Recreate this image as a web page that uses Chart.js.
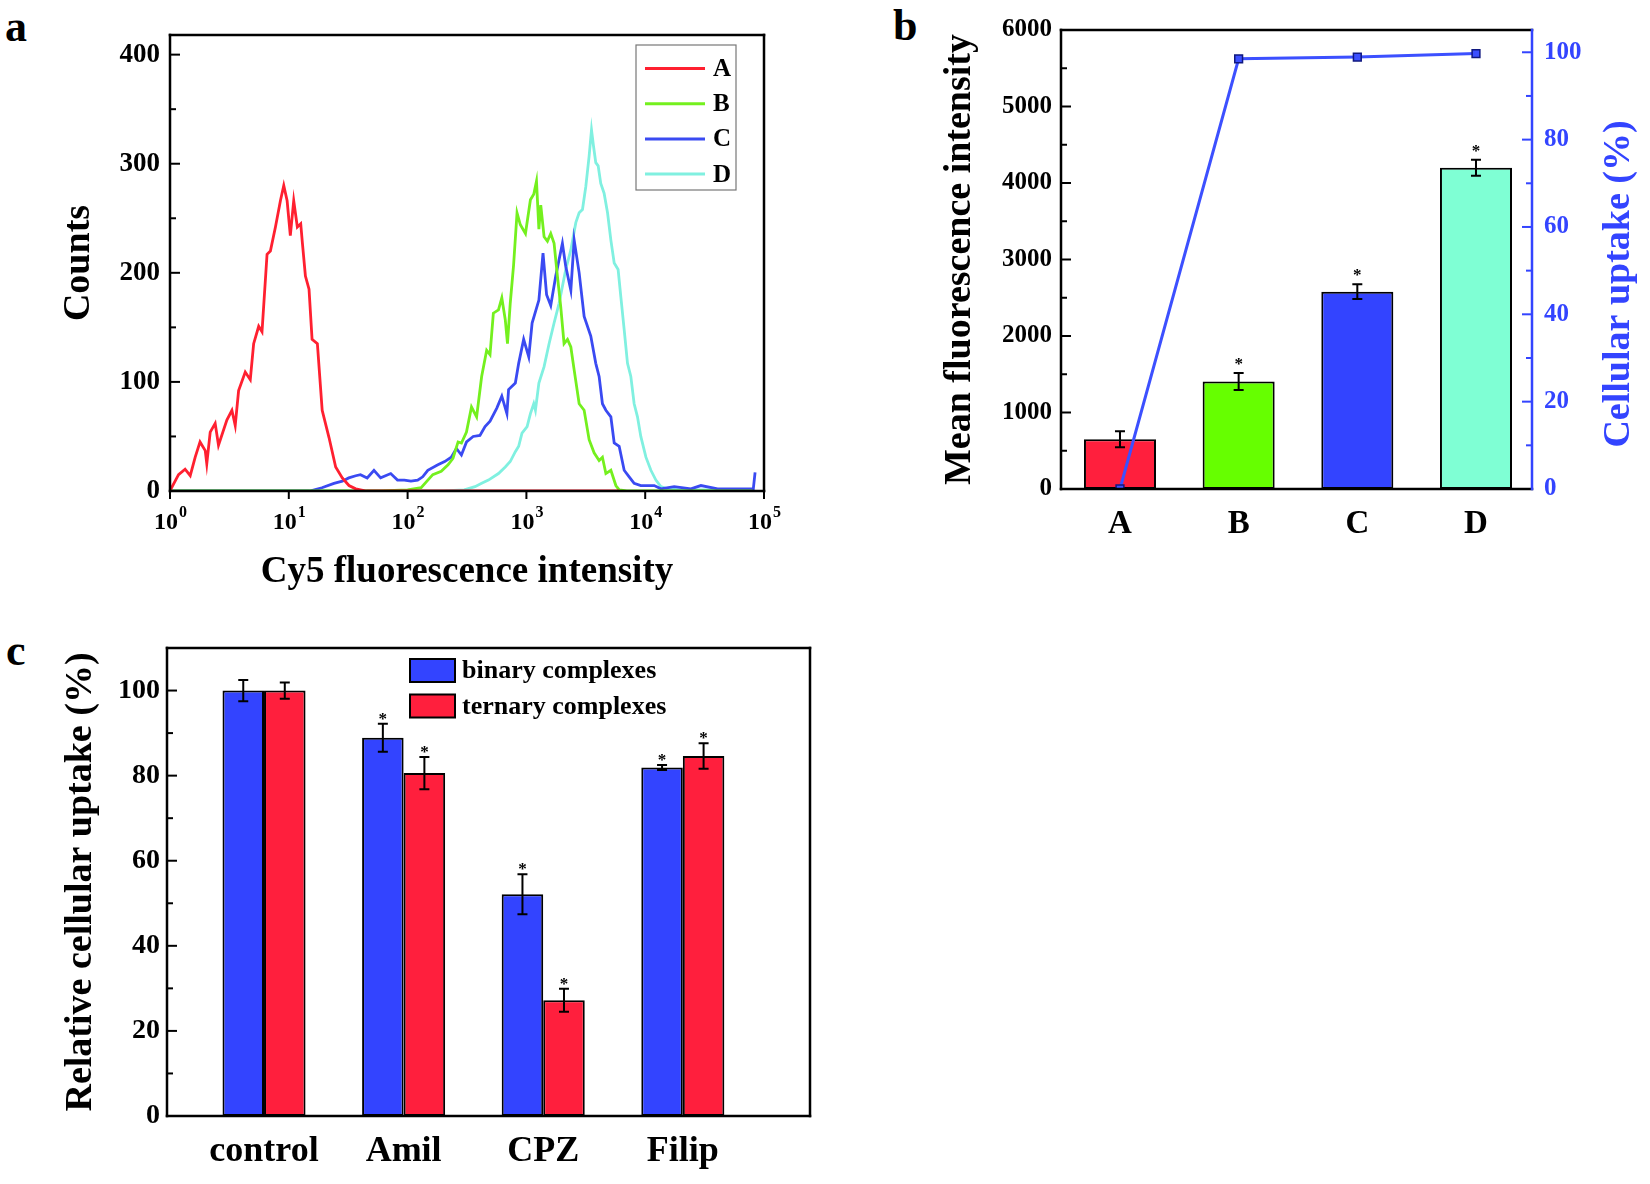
<!DOCTYPE html>
<html>
<head>
<meta charset="utf-8">
<script src="https://cdn.jsdelivr.net/npm/chart.js@4.4.0/dist/chart.umd.min.js"></script>
<style>
  html, body { margin: 0; padding: 0; background: #fff; }
  body { width: 1650px; height: 1184px; position: relative; overflow: hidden; }
  .painel { position: absolute; }
  .letra { position: absolute; font: bold 44px "Liberation Serif", "Times New Roman", serif; line-height: 1; }
</style>
</head>
<body>
<div class="letra" style="left:5px;top:5px">a</div>
<div class="letra" style="left:893px;top:4px">b</div>
<div class="letra" style="left:6px;top:629px">c</div>
<div class="painel" style="left:0;top:0;width:800px;height:600px"><canvas id="graficoHistograma"></canvas></div>
<div class="painel" style="left:840px;top:0;width:810px;height:560px"><canvas id="graficoMedia"></canvas></div>
<div class="painel" style="left:0;top:600px;width:840px;height:584px"><canvas id="graficoRelativo"></canvas></div>
<script>
// ---------- (a) histogramas: [intensidade, contagem] ----------
const curvaA = [[1,0],[1.02,2],[1.18,15],[1.34,20],[1.48,14],[1.63,31],[1.79,45],[1.98,37],[2.04,25],[2.18,54],
  [2.40,62],[2.56,42],[3.01,65],[3.32,74],[3.54,60],[3.78,92],[4.30,109],[4.74,102],[5.06,135],[5.58,151],
  [5.95,146],[6.56,217],[7.00,220],[7.72,242],[8.50,266],[9.07,280],[9.68,266],[10.3,234],[11.0,266],[11.8,242],
  [12.6,245],[13.0,228],[13.8,197],[14.8,185],[15.7,139],[17.4,135],[19.1,74],[21.8,49],[24.8,22],[28.2,12],
  [32.1,5],[36.6,2],[45,0],[6000,0]];
const curvaB = [[1,0],[60,0],[100,1],[130,3],[148,10],[163,15],[192,18],[219,24],[241,30],[266,45],[284,44],
  [313,54],[345,77],[381,68],[420,105],[463,129],[494,125],[527,163],[582,166],[621,177],[664,157],[693,135],
  [731,172],[780,207],[834,255],[889,244],[982,236],[1081,267],[1153,272],[1216,284],[1274,240],[1321,262],
  [1409,233],[1503,229],[1603,236],[1710,227],[1824,197],[1945,169],[2075,135],[2218,139],[2366,132],[2523,111],
  [2780,80],[3062,74],[3373,47],[3715,35],[4093,28],[4365,31],[4667,16],[5140,19],[5662,5],[6039,1],[7000,0],[80000,0]];
const curvaC = [[1,0],[15,0],[19,3],[24,7],[28.2,9],[32,12],[36.6,14],[40.1,15],[45.7,12],[52.1,19],[59.3,12],
  [72.1,16],[82.2,10],[93.8,10],[106.7,9],[121.6,10],[134,13],[147.9,19],[179.9,24],[205.1,27],[233.3,31],
  [257.6,39],[283.8,33],[313.3,45],[356.4,50],[406.4,51],[448.7,59],[494.3,64],[563.6,76],[620.9,87],[685.5,71],
  [707.9,93],[807.2,99],[861,117],[948.4,139],[1047,123],[1117,154],[1274,175],[1380,218],[1479,180],[1603,170],
  [1766,197],[2009,227],[2143,206],[2366,184],[2523,230],[2780,200],[3062,160],[3483,142],[3837,117],[4093,105],
  [4365,80],[4667,74],[5140,68],[5483,44],[6039,41],[6653,19],[7328,13],[8072,7],[9183,5],[11912,5],[13552,2],
  [17539,4],[24266,2],[29444,5],[40738,2],[63973,2],[81283,2],[84140,17]];
const curvaD = [[1,0],[200,0],[300,1],[369,4],[420,7],[479,10],[582,16],[664,22],[731,27],[807,36],[861,41],
  [918,53],[1014,59],[1081,71],[1153,80],[1191,74],[1274,99],[1409,114],[1552,135],[1710,154],[1884,172],
  [2143,203],[2366,221],[2606,246],[2780,255],[2965,258],[3162,279],[3373,307],[3532,331],[3673,316],[3837,301],
  [4018,298],[4227,282],[4508,273],[4819,255],[5140,230],[5483,209],[5916,203],[6237,178],[6653,148],[7096,117],
  [7568,105],[8072,80],[8610,68],[9183,50],[10139,31],[11169,19],[12303,10],[13552,4],[15417,2],[20000,1],
  [40000,1],[80000,0]];
const valoresX = [1, 10, 100, 1000, 10000, 100000];
const expoentesX = ['0', '1', '2', '3', '4', '5'];
const ticksContagem = [0, 100, 200, 300, 400];

// ---------- (b) intensidade média e captação ----------
const grupos = ['A', 'B', 'C', 'D'];
const intensidadeMedia = [650, 1405, 2580, 4200];
const erroIntensidade = [105, 110, 95, 105];
const captacao = [0, 98.5, 98.9, 99.7];
const estrelasB = [false, true, true, true];
const ticksIntensidade = [0, 1000, 2000, 3000, 4000, 5000, 6000];
const ticksCaptacao = [0, 20, 40, 60, 80, 100];

// ---------- (c) captação relativa ----------
const tratamentos = ['control', 'Amil', 'CPZ', 'Filip'];
const binarios = [100, 88.9, 52.1, 81.9];
const erroBinarios = [2.5, 3.3, 4.7, 0.6];
const ternarios = [100, 80.6, 27.2, 84.6];
const erroTernarios = [1.9, 3.8, 2.7, 3.0];
const estrelasC = [false, true, true, true];
const ticksRelativo = [0, 20, 40, 60, 80, 100];

const SERIF = '"Liberation Serif", "Times New Roman", serif';
Chart.defaults.font.family = SERIF;
Chart.defaults.font.weight = 'bold';
Chart.defaults.color = '#000';
Chart.defaults.animation = false;

const AZUL = '#3344FF';
const VERMELHO = '#FF1F3D';

// Caixa em volta do gráfico + marcas (para dentro / para fora)
const moldura = {
  id: 'moldura',
  afterDraw(chart, args, op) {
    const { ctx, chartArea: a } = chart;
    const linha = (x1, y1, x2, y2, cor) => {
      ctx.strokeStyle = cor;
      ctx.beginPath(); ctx.moveTo(x1, y1); ctx.lineTo(x2, y2); ctx.stroke();
    };
    ctx.save();
    ctx.lineWidth = 2;
    (op.marcas || []).forEach(m => {
      const s = chart.scales[m.eixo];
      const cor = m.cor || '#000';
      let vals = m.valores;
      if (!vals) {
        vals = [];
        for (let k = 0; s.min + k * m.passo <= s.max + 1e-9; k++) vals.push(s.min + k * m.passo);
      }
      vals.forEach(v => {
        const p = s.getPixelForValue(v);
        const maior = m.maior ? Math.abs(v / m.maior - Math.round(v / m.maior)) < 1e-6 : true;
        const L = maior ? 10 : 6;
        if (m.lado === 'esq') linha(a.left, p, a.left + L, p, cor);
        else if (m.lado === 'dir') linha(a.right, p, a.right - L, p, cor);
        else linha(p, a.bottom, p, a.bottom + 8, cor);
      });
    });
    ctx.lineWidth = 2.5;
    ctx.lineCap = 'square';
    linha(a.left, a.top, a.right, a.top, '#000');
    linha(a.left, a.top, a.left, a.bottom, '#000');
    linha(a.left, a.bottom, a.right, a.bottom, '#000');
    linha(a.right, a.top, a.right, a.bottom, op.corDireita || '#000');
    ctx.restore();
  }
};

// Barras de erro e asteriscos
const barrasErro = {
  id: 'barrasErro',
  afterDatasetsDraw(chart, args, op) {
    const ctx = chart.ctx;
    ctx.save();
    ctx.strokeStyle = '#000';
    ctx.fillStyle = '#000';
    ctx.lineWidth = 2;
    chart.data.datasets.forEach((ds, i) => {
      if (!ds.erros) return;
      const meta = chart.getDatasetMeta(i);
      const ey = chart.scales[meta.yAxisID];
      meta.data.forEach((barra, j) => {
        const v = ds.data[j].y, e = ds.erros[j];
        const x = barra.x;
        const yTop = ey.getPixelForValue(v + e);
        const yBot = ey.getPixelForValue(v - e);
        ctx.beginPath();
        ctx.moveTo(x, yTop); ctx.lineTo(x, yBot);
        ctx.moveTo(x - 5, yTop); ctx.lineTo(x + 5, yTop);
        ctx.moveTo(x - 5, yBot); ctx.lineTo(x + 5, yBot);
        ctx.stroke();
        if (ds.estrelas && ds.estrelas[j]) {
          ctx.font = 'bold 17px ' + SERIF;
          ctx.textAlign = 'center';
          ctx.textBaseline = 'alphabetic';
          ctx.fillText('*', x, yTop - op.distEstrela + 9);
        }
      });
    });
    ctx.restore();
  }
};

// Legenda desenhada numa posição fixa
const legendaFixa = {
  id: 'legendaFixa',
  afterDraw(chart, args, op) {
    const ctx = chart.ctx;
    ctx.save();
    if (op.caixa) {
      ctx.strokeStyle = '#777';
      ctx.lineWidth = 1.2;
      ctx.strokeRect(...op.caixa);
    }
    ctx.font = 'bold ' + op.tamanho + 'px ' + SERIF;
    ctx.textBaseline = 'middle';
    ctx.textAlign = 'left';
    chart.data.datasets.forEach((ds, i) => {
      const y = op.y0 + i * op.passo;
      if (op.tipo === 'linha') {
        ctx.strokeStyle = ds.borderColor;
        ctx.lineWidth = 3;
        ctx.beginPath(); ctx.moveTo(op.x0, y); ctx.lineTo(op.x1, y); ctx.stroke();
      } else {
        ctx.fillStyle = ds.backgroundColor;
        ctx.fillRect(op.x0, y - 11.5, op.x1 - op.x0, 23);
        ctx.strokeStyle = '#000';
        ctx.lineWidth = 2;
        ctx.strokeRect(op.x0, y - 11.5, op.x1 - op.x0, 23);
      }
      ctx.fillStyle = '#000';
      ctx.fillText(ds.label, op.xTexto, y + 1);
    });
    ctx.restore();
  }
};

// Rótulos 10^n do eixo logarítmico
const rotulosLog = {
  id: 'rotulosLog',
  afterDraw(chart) {
    const { ctx, chartArea: a } = chart;
    const s = chart.scales.x;
    ctx.save();
    ctx.fillStyle = '#000';
    ctx.textBaseline = 'alphabetic';
    ctx.textAlign = 'left';
    valoresX.forEach((v, i) => {
      const p = s.getPixelForValue(v);
      ctx.font = 'bold 24px ' + SERIF;
      const w1 = ctx.measureText('10').width;
      ctx.font = 'bold 16px ' + SERIF;
      const w2 = ctx.measureText(expoentesX[i]).width;
      const x0 = p - (w1 + w2) / 2;
      ctx.font = 'bold 24px ' + SERIF;
      ctx.fillText('10', x0, a.bottom + 38);
      ctx.font = 'bold 16px ' + SERIF;
      ctx.fillText(expoentesX[i], x0 + w1 + 1, a.bottom + 26);
    });
    ctx.restore();
  }
};

// Título do eixo da direita (lido de baixo para cima)
const tituloDireito = {
  id: 'tituloDireito',
  afterDraw(chart, args, op) {
    const ctx = chart.ctx;
    ctx.save();
    ctx.translate(op.x, op.y);
    ctx.rotate(-Math.PI / 2);
    ctx.font = 'bold 38px ' + SERIF;
    ctx.fillStyle = op.cor;
    ctx.textAlign = 'center';
    ctx.textBaseline = 'middle';
    ctx.fillText(op.texto, 0, 0);
    ctx.restore();
  }
};

const semGrade = { display: false, drawTicks: false };
const numeroSimples = v => String(v);

// ---------- gráfico (a) ----------
new Chart(document.getElementById('graficoHistograma'), {
  type: 'line',
  data: {
    datasets: [
      { label: 'A', data: curvaA, borderColor: '#FF2030' },
      { label: 'B', data: curvaB, borderColor: '#74F01E' },
      { label: 'C', data: curvaC, borderColor: '#3A4AF2' },
      { label: 'D', data: curvaD, borderColor: '#80F0E0' }
    ].map(d => ({ ...d, borderWidth: 2.8, pointRadius: 0, tension: 0, fill: false }))
  },
  options: {
    responsive: true,
    maintainAspectRatio: false,
    layout: { padding: { top: 35, right: 36, left: 0, bottom: 0 } },
    plugins: {
      legend: { display: false },
      tooltip: { enabled: false },
      moldura: {
        marcas: [
          { eixo: 'y', lado: 'esq', passo: 50, maior: 100 },
          { eixo: 'x', lado: 'baixo', valores: valoresX }
        ]
      },
      legendaFixa: { tipo: 'linha', caixa: [636, 45, 100, 145], x0: 645, x1: 705, xTexto: 713, y0: 68.5, passo: 35.2, tamanho: 25 }
    },
    scales: {
      x: {
        type: 'logarithmic', min: 1, max: 100000,
        afterBuildTicks: s => { s.ticks = valoresX.map(v => ({ value: v })); },
        afterFit: s => { s.height = 109; },
        grid: semGrade, border: { display: false },
        ticks: { display: false },
        title: { display: true, text: 'Cy5 fluorescence intensity', font: { size: 37, lineHeight: 1 }, padding: { top: 0, bottom: 9 } }
      },
      y: {
        min: 0, max: 418,
        afterBuildTicks: s => { s.ticks = ticksContagem.map(v => ({ value: v })); },
        afterFit: s => { s.width = 170; },
        grid: semGrade, border: { display: false },
        ticks: { padding: 10, font: { size: 27 }, callback: numeroSimples },
        title: { display: true, text: 'Counts', font: { size: 38, lineHeight: 1 }, padding: { top: 60, bottom: 0 } }
      }
    }
  },
  plugins: [moldura, legendaFixa, rotulosLog]
});

// ---------- gráfico (b) ----------
new Chart(document.getElementById('graficoMedia'), {
  type: 'bar',
  data: {
    datasets: [
      {
        type: 'line',
        label: 'Cellular uptake',
        data: captacao.map((v, i) => ({ x: i + 1, y: v })),
        yAxisID: 'y1',
        borderColor: '#3C50FF',
        borderWidth: 3,
        pointStyle: 'rect',
        pointRadius: 5.5,
        pointBackgroundColor: '#3C50FF',
        pointBorderColor: '#101880',
        pointBorderWidth: 1.5,
        tension: 0,
        order: 0
      },
      {
        label: 'Mean fluorescence intensity',
        data: intensidadeMedia.map((v, i) => ({ x: i + 1, y: v })),
        erros: erroIntensidade,
        estrelas: estrelasB,
        yAxisID: 'y',
        backgroundColor: ['#FF1F3D', '#66FF00', AZUL, '#7FFFD4'],
        borderColor: '#000',
        borderWidth: 2,
        borderSkipped: false,
        barPercentage: 0.607,
        categoryPercentage: 1,
        order: 1
      }
    ]
  },
  options: {
    responsive: true,
    maintainAspectRatio: false,
    layout: { padding: { top: 30, right: 0, left: 0, bottom: 0 } },
    plugins: {
      legend: { display: false },
      tooltip: { enabled: false },
      moldura: {
        corDireita: AZUL,
        marcas: [
          { eixo: 'y', lado: 'esq', passo: 500, maior: 1000 },
          { eixo: 'y1', lado: 'dir', passo: 10, maior: 20, cor: AZUL }
        ]
      },
      barrasErro: { distEstrela: 13 },
      tituloDireito: { texto: 'Cellular uptake (%)', x: 779, y: 284, cor: AZUL }
    },
    scales: {
      x: {
        type: 'linear', min: 0.503, max: 4.472, offset: false,
        afterBuildTicks: s => { s.ticks = grupos.map((g, i) => ({ value: i + 1 })); },
        afterFit: s => { s.height = 71; },
        grid: semGrade, border: { display: false },
        ticks: { padding: 16, font: { size: 33 }, autoSkip: false, maxRotation: 0, callback: v => grupos[v - 1] }
      },
      y: {
        position: 'left', min: 0, max: 6000,
        afterBuildTicks: s => { s.ticks = ticksIntensidade.map(v => ({ value: v })); },
        afterFit: s => { s.width = 221; },
        grid: semGrade, border: { display: false },
        ticks: { padding: 9, font: { size: 25 }, callback: numeroSimples },
        title: { display: true, text: 'Mean fluorescence intensity', font: { size: 38, lineHeight: 1 }, padding: { top: 101, bottom: 0 } }
      },
      y1: {
        position: 'right', min: 0, max: 105.1,
        afterBuildTicks: s => { s.ticks = ticksCaptacao.map(v => ({ value: v })); },
        afterFit: s => { s.width = 118; },
        grid: semGrade, border: { display: false },
        ticks: { padding: 12, color: AZUL, font: { size: 25 }, callback: numeroSimples }
      }
    }
  },
  plugins: [moldura, barrasErro, tituloDireito]
});

// ---------- gráfico (c) ----------
new Chart(document.getElementById('graficoRelativo'), {
  type: 'bar',
  data: {
    datasets: [
      { label: 'binary complexes', data: binarios.map((v, i) => ({ x: i + 1, y: v })), erros: erroBinarios, estrelas: estrelasC, backgroundColor: AZUL },
      { label: 'ternary complexes', data: ternarios.map((v, i) => ({ x: i + 1, y: v })), erros: erroTernarios, estrelas: estrelasC, backgroundColor: VERMELHO }
    ].map(d => ({ ...d, borderColor: '#000', borderWidth: 2, borderSkipped: false, barPercentage: 1, categoryPercentage: 0.595 }))
  },
  options: {
    responsive: true,
    maintainAspectRatio: false,
    layout: { padding: { top: 48, right: 30, left: 0, bottom: 0 } },
    plugins: {
      legend: { display: false },
      tooltip: { enabled: false },
      moldura: {
        marcas: [{ eixo: 'y', lado: 'esq', passo: 10, maior: 20 }]
      },
      barrasErro: { distEstrela: 9 },
      legendaFixa: { tipo: 'caixa', x0: 410, x1: 455, xTexto: 462, y0: 70.5, passo: 35.5, tamanho: 26 }
    },
    scales: {
      x: {
        type: 'linear', min: 0.305, max: 4.911, offset: false,
        afterBuildTicks: s => { s.ticks = tratamentos.map((t, i) => ({ value: i + 1 })); },
        afterFit: s => { s.height = 68; },
        grid: semGrade, border: { display: false },
        ticks: { padding: 14, font: { size: 36 }, autoSkip: false, maxRotation: 0, callback: v => tratamentos[v - 1] }
      },
      y: {
        min: 0, max: 110,
        afterBuildTicks: s => { s.ticks = ticksRelativo.map(v => ({ value: v })); },
        afterFit: s => { s.width = 167; },
        grid: semGrade, border: { display: false },
        ticks: { padding: 7, font: { size: 28 }, callback: numeroSimples },
        title: { display: true, text: 'Relative cellular uptake (%)', font: { size: 38, lineHeight: 1 }, padding: { top: 62, bottom: 0 } }
      }
    }
  },
  plugins: [moldura, barrasErro, legendaFixa]
});
</script>
</body>
</html>
